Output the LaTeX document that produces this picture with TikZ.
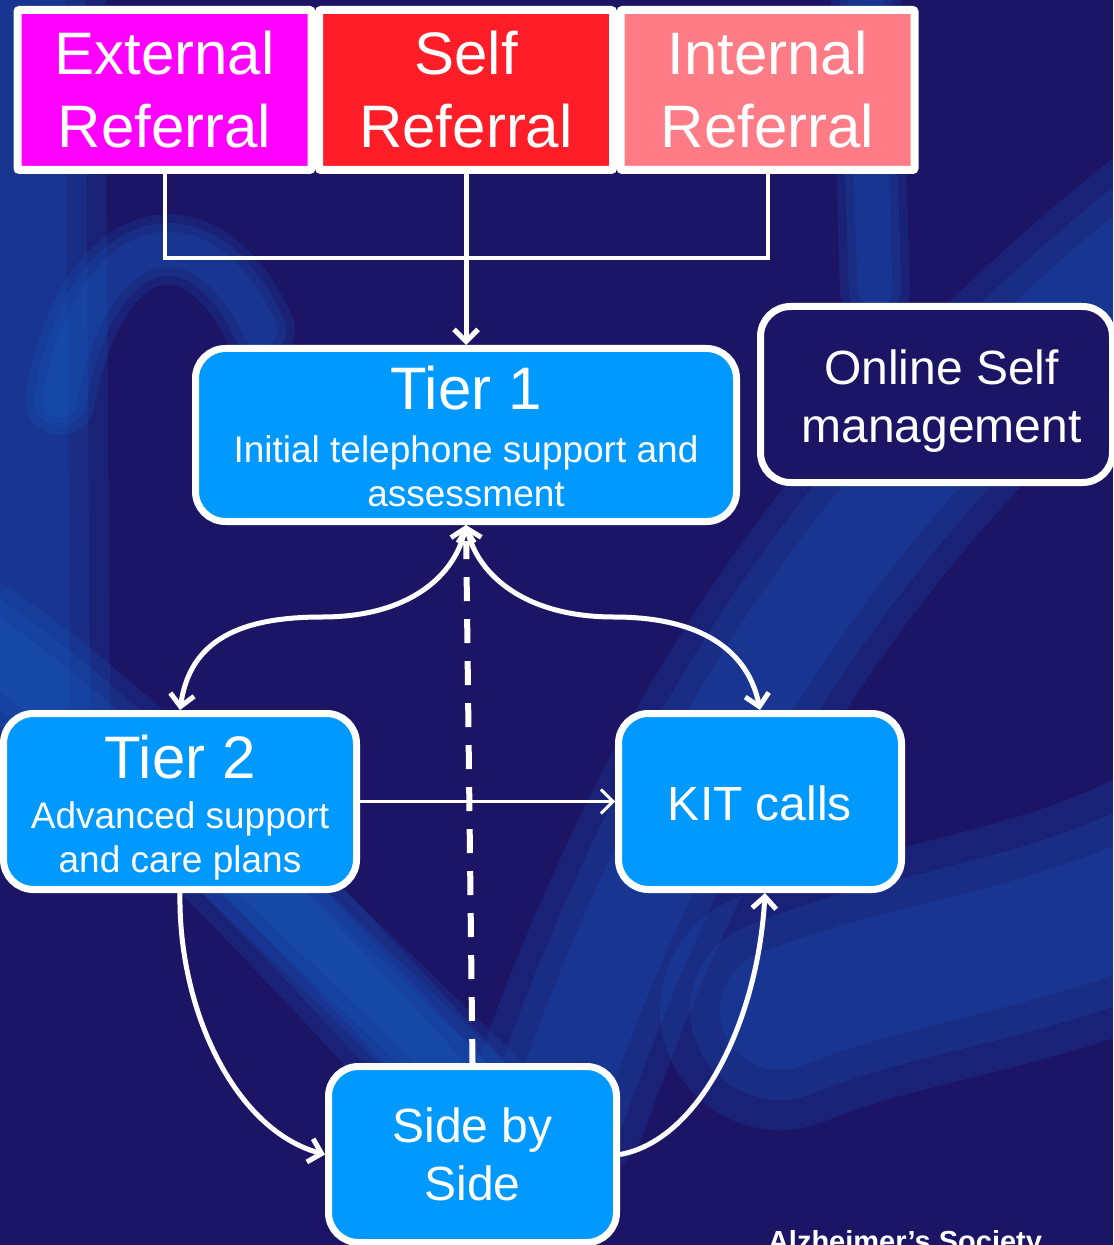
\documentclass[tikz,border=0pt]{standalone}
\usepackage{fontspec}
\setmainfont{Liberation Sans}
\usetikzlibrary{arrows.meta}
\definecolor{navy}{RGB}{28,21,102}
\definecolor{bandblue}{RGB}{22,96,200}
\definecolor{tierblue}{RGB}{0,153,255}
\definecolor{extmag}{RGB}{255,0,255}
\definecolor{selfred}{RGB}{255,30,40}
\definecolor{intpink}{RGB}{255,123,133}
\begin{document}
\begin{tikzpicture}[x=0.5pt,y=-0.5pt,
  band/.style={bandblue,line width=#1,line cap=round,opacity=0.18},
  referral/.style={draw=white,line width=4pt,rounded corners=1pt,minimum width=147pt,minimum height=80pt,text=white,align=center,font=\fontsize{30}{36.5}\selectfont},
  tier/.style={draw=white,fill=tierblue,line width=3.5pt,rounded corners=15pt,text=white,align=center,font=\fontsize{18.5}{22}\selectfont},
  wire/.style={white,line width=2pt},
  flow/.style={white,line width=2.5pt,-{Straight Barb[length=6pt,width=12pt]}},
  both/.style={white,line width=2.5pt,{Straight Barb[length=6pt,width=12pt]}-{Straight Barb[length=6pt,width=12pt]}}]
\useasboundingbox (0,0) rectangle (1113,1245);
\clip (0,0) rectangle (1113,1245);
\fill[navy] (0,0) rectangle (1113,1245);
% background swooshes, soft edges
\foreach \w in {1,0.75,0.5} {
  \draw[band=\w*80pt] (25,-40) -- (30,700);
  \draw[band=\w*35pt] (60,400) .. controls (90,230) and (200,200) .. (260,330);
  \draw[band=\w*60pt] (-20,640) .. controls (150,760) and (300,930) .. (450,1090);
  \draw[band=\w*50pt] (240,860) -- (480,1090);
  \draw[band=\w*90pt] (1180,220) .. controls (900,440) and (700,700) .. (560,1100);
  \draw[band=\w*120pt] (780,1010) .. controls (900,960) and (1050,950) .. (1180,880);
  \draw[band=\w*35pt] (865,-30) -- (875,290);
}
% referral boxes
\node[referral,fill=extmag] (ext) at (164.5,90) {External\\Referral};
\node[referral,fill=selfred] (self) at (466,90) {Self\\Referral};
\node[referral,fill=intpink] (int) at (767.5,90) {Internal\\Referral};
% tiers
\node[tier,minimum width=270.5pt,minimum height=86.5pt] (tier1) at (466,435)
  {{\fontsize{30}{30}\selectfont\rule{0pt}{23pt}Tier 1}\\[4.5pt]Initial telephone support and\\assessment};
\node[tier,minimum width=176.5pt,minimum height=88pt] (tier2) at (180,801.5)
  {{\fontsize{30}{30}\selectfont\rule{0pt}{28pt}Tier 2}\\[3pt]Advanced support\\and care plans};
\node[tier,minimum width=141.5pt,minimum height=88pt,font=\fontsize{24}{29}\selectfont] (kit) at (760,801.5) {\rule{0pt}{19pt}KIT calls};
\node[tier,minimum width=144pt,minimum height=88pt,font=\fontsize{24}{29}\selectfont] (sbs) at (472.5,1154.5) {Side by\\Side};
\node[tier,fill=navy,minimum width=176pt,minimum height=88pt,font=\fontsize{24}{29}\selectfont] (online) at (936.5,394.5)
  {\hspace{5pt}\rule{0pt}{23.5pt}Online Self\\\hspace{5pt}management};
\node[text=white,anchor=base,font=\bfseries\fontsize{14.5}{14.5}\selectfont] (credit) at (905,1251) {Alzheimer’s Society};
% connectors
\draw[wire] (ext.south) -- ++(0,84) -| (int.south);
\draw[flow] (self.south) -- (tier1.north);
\draw[both] (tier2.north) .. controls (190,640) and (240,617) .. (322,617) .. controls (410,617) and (455,575) .. (tier1.south);
\draw[both] (tier1.south) .. controls (478,575) and (525,617) .. (614,617) .. controls (700,617) and (748,650) .. (kit.north);
\draw[white,line width=3pt,dash pattern=on 12pt off 9pt,shorten >=8pt] (sbs.north) -- (tier1.south);
\draw[flow,line width=1.5pt] (tier2.east) -- (kit.west);
\draw[flow] (tier2.south) .. controls (178,1010) and (235,1130) .. (sbs.west);
\draw[flow] (sbs.east) .. controls (700,1140) and (758,1020) .. ([xshift=2.5pt]kit.south);
\end{tikzpicture}
\end{document}
